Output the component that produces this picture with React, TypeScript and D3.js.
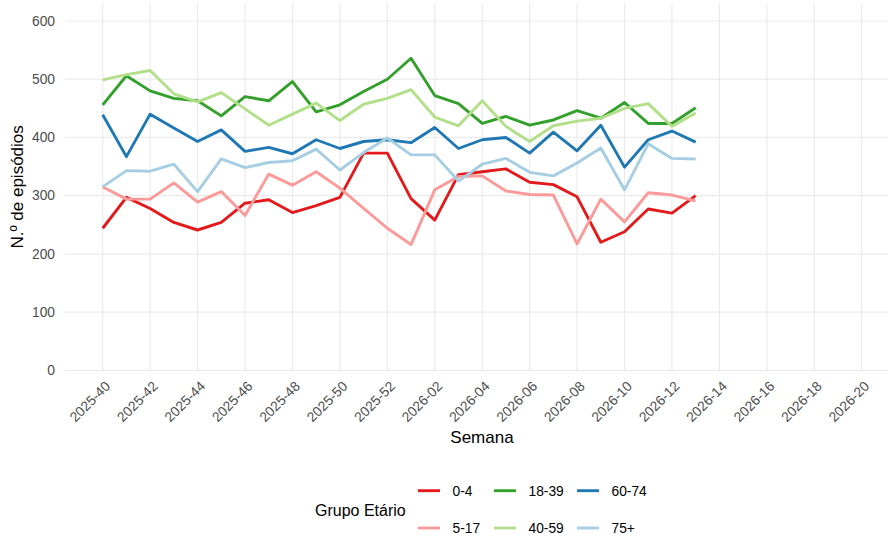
import React from "react";
import * as d3 from "d3";

const weeks: string[] = [
  ...d3.range(40, 53).map((w) => `2025-${String(w).padStart(2, "0")}`),
  ...d3.range(1, 21).map((w) => `2026-${String(w).padStart(2, "0")}`),
];
const tickWeeks: string[] = weeks.filter((_, i) => i % 2 === 0);
const yTicks: number[] = [0, 100, 200, 300, 400, 500, 600];

const groups: string[] = ["0-4", "5-17", "18-39", "40-59", "60-74", "75+"];
const colors: string[] = ["#E31A1C", "#FB9A99", "#33A02C", "#B2DF8A", "#1F78B4", "#A6CEE3"];

const v0_4: number[] = [244, 297, 278, 254, 241, 254, 287, 293, 271, 283, 297, 373, 373, 295, 258, 336, 341, 346, 323, 319, 298, 220, 238, 277, 270, 300];
const v5_17: number[] = [315, 294, 294, 322, 289, 307, 266, 337, 318, 341, 313, 278, 244, 216, 310, 333, 334, 308, 302, 301, 217, 294, 255, 305, 301, 291];
const v18_39: number[] = [456, 506, 480, 467, 463, 437, 470, 463, 496, 444, 456, 479, 500, 536, 472, 458, 424, 436, 421, 430, 446, 433, 460, 424, 424, 451];
const v40_59: number[] = [499, 508, 515, 475, 461, 477, 449, 421, 440, 459, 429, 457, 467, 482, 435, 420, 463, 419, 393, 420, 428, 433, 450, 458, 419, 442];
const v60_74: number[] = [439, 367, 440, 416, 393, 413, 376, 383, 372, 396, 381, 393, 396, 391, 417, 381, 396, 400, 373, 409, 377, 421, 349, 396, 411, 392];
const v75: number[] = [315, 343, 342, 354, 307, 363, 348, 357, 360, 380, 344, 374, 399, 370, 370, 325, 354, 364, 340, 334, 356, 382, 310, 389, 364, 363];

const seriesValues: number[][] = [v0_4, v5_17, v18_39, v40_59, v60_74, v75];

const W = 888;
const H = 546;
const FONT = "'Liberation Sans', Arial, Helvetica, sans-serif";

export default function App() {
  const x = d3.scalePoint<string>().domain(weeks).range([102.7, 861.7]);
  const y = d3.scaleLinear().domain([0, 600]).range([370.3, 21]);
  const panelLeft = 64.8;
  const panelRight = 900;
  const panelTop = y(630);
  const panelBottom = y(0);

  const line = d3
    .line<number>()
    .x((_, i) => x(weeks[i]) as number)
    .y((d) => y(d));

  const legendCols = [418, 494, 577];
  const legendRows = [490.7, 528];

  return (
    <svg
      width={W}
      height={H}
      style={{ position: "absolute", left: 0, top: 0, background: "#fff" }}
      fontFamily={FONT}
    >
      <rect width={W} height={H} fill="#fff" />
      {/* gridlines */}
      <g stroke="#EBEBEB" strokeWidth={1.2}>
        {yTicks.map((t) => (
          <line key={`h${t}`} x1={panelLeft} x2={panelRight} y1={y(t)} y2={y(t)} />
        ))}
        {weeks
          .filter((_, i) => i % 2 === 0)
          .map((w) => (
            <line key={`v${w}`} x1={x(w)} x2={x(w)} y1={panelTop} y2={panelBottom} />
          ))}
      </g>
      {/* y tick labels */}
      <g fill="#4D4D4D" fontSize={13.8} textAnchor="end">
        {yTicks.map((t) => (
          <text key={t} x={55} y={y(t)} dy="0.35em">
            {t}
          </text>
        ))}
      </g>
      {/* x tick labels */}
      <g fill="#4D4D4D" fontSize={13.8} textAnchor="end">
        {tickWeeks.map((w) => (
          <text
            key={w}
            transform={`translate(${(x(w) as number) + 1.5},${380}) rotate(-45)`}
            dy="0.72em"
          >
            {w}
          </text>
        ))}
      </g>
      {/* lines */}
      <g fill="none" strokeWidth={2.9} strokeLinejoin="round" strokeLinecap="butt">
        {seriesValues.map((vals, k) => (
          <path key={groups[k]} d={line(vals) || ""} stroke={colors[k]} />
        ))}
      </g>
      {/* axis titles */}
      <text x={482} y={443} textAnchor="middle" fontSize={17} fill="#000">
        Semana
      </text>
      <text
        transform={`translate(23,${(panelTop + panelBottom) / 2}) rotate(-90)`}
        textAnchor="middle"
        fontSize={17}
        fill="#000"
      >
        N.º de episódios
      </text>
      {/* legend */}
      <text x={315} y={510} dy="0.35em" fontSize={16} fill="#000">
        Grupo Etário
      </text>
      {groups.map((g, k) => {
        const col = Math.floor(k / 2);
        const row = k % 2;
        const lx = legendCols[col];
        const ly = legendRows[row];
        return (
          <g key={g}>
            <line x1={lx} x2={lx + 22} y1={ly} y2={ly} stroke={colors[k]} strokeWidth={2.9} />
            <text x={lx + 34.5} y={ly} dy="0.35em" fontSize={13.8} fill="#000">
              {g}
            </text>
          </g>
        );
      })}
    </svg>
  );
}
